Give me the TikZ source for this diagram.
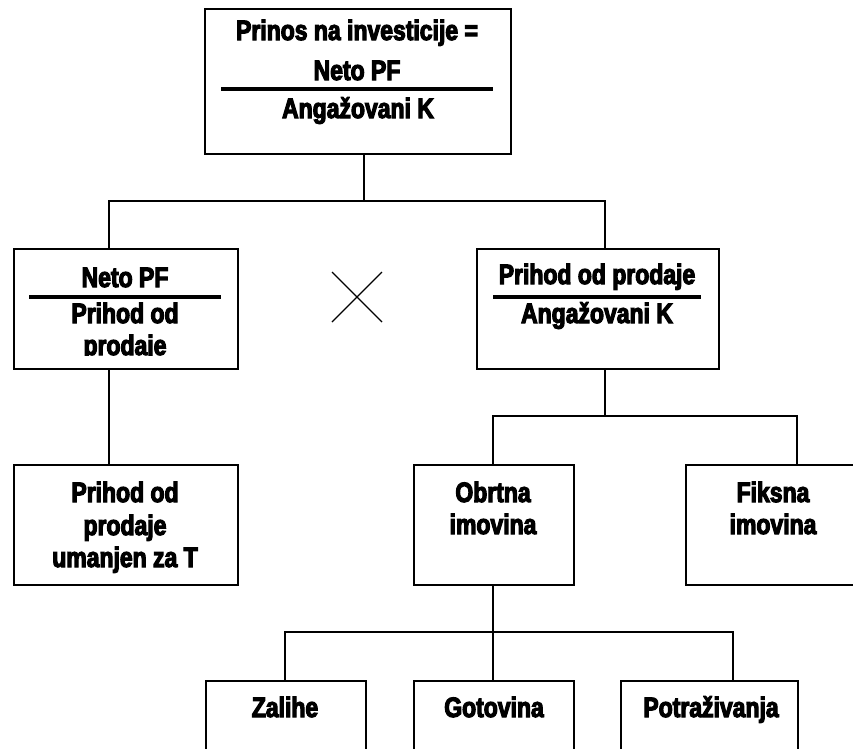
\documentclass[tikz,border=0pt]{standalone}
\usepackage{fontspec}
\newfontfamily\labfont{Liberation Sans Bold}[FakeStretch=0.82,FakeBold=4]
\begin{document}
\begin{tikzpicture}[x=1pt,y=-1pt,
  box/.style={draw, line width=1.8pt, rectangle, inner sep=0pt, anchor=north west},
  lab/.style={font=\labfont\fontsize{28}{32}\selectfont, anchor=base, inner sep=0pt},
  conn/.style={line width=1.6pt},
  rulebar/.style={line width=4pt},
  thin/.style={line width=1.1pt}]
\useasboundingbox (0,0) rectangle (853,748);
\fill[white] (0,0) rectangle (853,748);
\begin{scope}
\clip (0,0) rectangle (853,748);
% boxes
\node[box, minimum width=306pt, minimum height=145pt] (top) at (204,8) {};
\node[box, minimum width=224pt, minimum height=120pt] (L1) at (13,248) {};
\node[box, minimum width=242pt, minimum height=120pt] (R1) at (476,248) {};
\node[box, minimum width=224pt, minimum height=120pt] (L2) at (13,464) {};
\node[box, minimum width=160pt, minimum height=120pt] (ob) at (413,464) {};
\node[box, minimum width=176pt, minimum height=120pt] (fi) at (685,464) {};
\node[box, minimum width=160pt, minimum height=90pt] (za) at (205,680) {};
\node[box, minimum width=160pt, minimum height=90pt] (go) at (413,680) {};
\node[box, minimum width=177pt, minimum height=90pt] (po) at (620,680) {};
% texts
\node[lab] (t1) at (357,40) {Prinos na investicije =};
\node[lab] (t2) at (357,80) {Neto PF};
\coordinate (r1a) at (221,89); \coordinate (r1b) at (493,89);
\draw[rulebar] (r1a) -- (r1b);
\node[lab] (t3) at (358,118) {Angažovani K};

\node[lab] (l1a) at (125,287) {Neto PF};
\coordinate (r2a) at (29,297); \coordinate (r2b) at (221,297);
\draw[rulebar] (r2a) -- (r2b);
\node[lab] (l1b) at (125,323) {Prihod od};
\begin{scope}
\clip (14,330) rectangle (236,355.5);
\node[lab] (l1c) at (125,355) {prodaje};
\end{scope}

\node[lab] (r1t) at (597,284) {Prihod od prodaje};
\coordinate (r3a) at (493,297); \coordinate (r3b) at (701,297);
\draw[rulebar] (r3a) -- (r3b);
\node[lab] (r1u) at (597,323) {Angažovani K};

\node[lab] (l2a) at (125,502) {Prihod od};
\node[lab] (l2b) at (125,535) {prodaje};
\node[lab] (l2c) at (125,567) {umanjen za T};

\node[lab] (oba) at (493,502) {Obrtna};
\node[lab] (obb) at (493,534) {imovina};
\node[lab] (fia) at (773,502) {Fiksna};
\node[lab] (fib) at (773,534) {imovina};

\node[lab] (zat) at (285,717) {Zalihe};
\node[lab] (got) at (494,717) {Gotovina};
\node[lab] (pot) at (711,717) {Potraživanja};

% the cross
\coordinate (xa) at (332,272); \coordinate (xb) at (382,322);
\coordinate (xc) at (332,322); \coordinate (xd) at (382,272);
\draw[thin] (xa) -- (xb);
\draw[thin] (xc) -- (xd);

% connectors
\coordinate (j0) at (364,201);
\coordinate (jL) at (109,201);
\coordinate (jR) at (605,201);
\draw[conn] (top.south -| j0) -- (j0);
\draw[conn] (L1.north -| jL) -- (jL) -- (jR) -- (R1.north -| jR);
\draw[conn] (L1.south -| jL) -- (L2.north -| jL);

\coordinate (k0) at (605,416);
\coordinate (kL) at (493,416);
\coordinate (kR) at (797,416);
\draw[conn] (R1.south -| k0) -- (k0);
\draw[conn] (ob.north -| kL) -- (kL) -- (kR) -- (fi.north -| kR);

\coordinate (m0) at (493,632);
\coordinate (mL) at (285,632);
\coordinate (mR) at (733,632);
\draw[conn] (ob.south -| m0) -- (m0) -- (go.north -| m0);
\draw[conn] (za.north -| mL) -- (mL) -- (mR) -- (po.north -| mR);
\end{scope}
\end{tikzpicture}
\end{document}
